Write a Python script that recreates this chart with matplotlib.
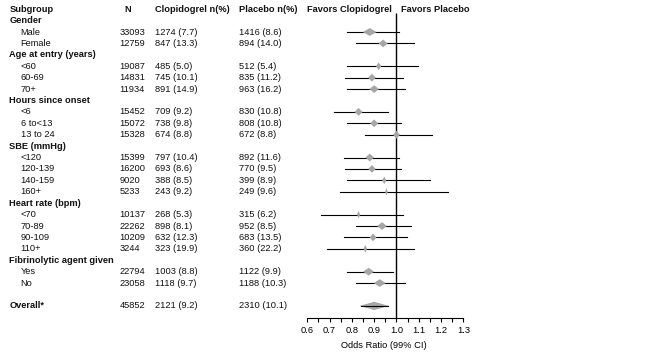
import numpy as np
import matplotlib.pyplot as plt
from matplotlib.patches import Polygon
from matplotlib.transforms import blended_transform_factory

plt.rcParams['font.family'] = ['Liberation Sans', 'DejaVu Sans']

# ---- data ----
group_names = ["Gender", "Age at entry (years)", "Hours since onset", "SBE (mmHg)",
               "Heart rate (bpm)", "Fibrinolytic agent given"]
group_sizes = [2, 3, 3, 4, 4, 2]
subgroups = ["Male", "Female", "<60", "60-69", "70+", "<6", "6 to<13", "13 to 24",
             "<120", "120-139", "140-159", "160+", "<70", "70-89", "90-109", "110+",
             "Yes", "No"]
n_total = [33093, 12759, 19087, 14831, 11934, 15452, 15072, 15328, 15399, 16200,
           9020, 5233, 10137, 22262, 10209, 3244, 22794, 23058]
clop_n = [1274, 847, 485, 745, 891, 709, 738, 674, 797, 693, 388, 243, 268, 898,
          632, 323, 1003, 1118]
clop_pct = [7.7, 13.3, 5.0, 10.1, 14.9, 9.2, 9.8, 8.8, 10.4, 8.6, 8.5, 9.2, 5.3,
            8.1, 12.3, 19.9, 8.8, 9.7]
plac_n = [1416, 894, 512, 835, 963, 830, 808, 672, 892, 770, 399, 249, 315, 952,
          683, 360, 1122, 1188]
plac_pct = [8.6, 14.0, 5.4, 11.2, 16.2, 10.8, 10.8, 8.8, 11.6, 9.5, 8.9, 9.6, 6.2,
            8.5, 13.5, 22.2, 9.9, 10.3]
odds = [0.88, 0.94, 0.92, 0.89, 0.90, 0.83, 0.90, 1.00, 0.88, 0.89, 0.945, 0.955,
        0.83, 0.935, 0.895, 0.86, 0.875, 0.925]
ci_lo = [0.78, 0.82, 0.78, 0.77, 0.78, 0.72, 0.78, 0.86, 0.765, 0.77, 0.78, 0.745,
         0.66, 0.82, 0.765, 0.69, 0.78, 0.82]
ci_hi = [1.01, 1.08, 1.095, 1.03, 1.04, 0.96, 1.02, 1.16, 1.01, 1.02, 1.15, 1.23,
         1.03, 1.065, 1.045, 1.08, 0.985, 1.04]
overall = dict(label="Overall*", n=45852, clop="2121 (9.2)", plac="2310 (10.1)",
               odds=0.90, lo=0.84, hi=0.96)
headers = ["Subgroup", "N", "Clopidogrel n(%)", "Placebo n(%)",
           "Favors Clopidogrel", "Favors Placebo"]
xticks = [0.6, 0.7, 0.8, 0.9, 1.0, 1.1, 1.2, 1.3]

W, H = 657, 356
fig = plt.figure(figsize=(W / 100, H / 100), dpi=100)
ax = fig.add_axes([296.15 / W, 38 / H, 173.9 / W, 318 / H])
ax.set_xlim(0.55, 1.33)
ax.set_ylim(27.06, -0.806)
trans = blended_transform_factory(fig.transFigure, ax.transData)

fs = 6.7
gray = '#a6a6a6'

def txt(xpx, y, s, bold=False, ha='left'):
    ax.text(xpx / W, y, s, transform=trans, fontsize=fs, ha=ha, va='center',
            fontweight='bold' if bold else 'normal', color='#111111', clip_on=False)

# header row
for xpx, s, ha in zip([9.3, 128, 155.3, 238.7, 306.7, 400.7], headers,
                      ['left', 'center', 'left', 'left', 'left', 'left']):
    txt(xpx, 0, s, bold=True, ha=ha)

def diamond(x, y, hw, hh):
    ax.add_patch(Polygon([[x - hw, y], [x, y - hh], [x + hw, y], [x, y + hh]],
                         closed=True, facecolor=gray, edgecolor='none', zorder=3))

row = 1
k = 0
for g, size in zip(group_names, group_sizes):
    txt(9.3, row, g, bold=True)
    row += 1
    for _ in range(size):
        txt(20.7, row, subgroups[k])
        txt(119.3, row, str(n_total[k]))
        txt(155.3, row, f"{clop_n[k]} ({clop_pct[k]:.1f})")
        txt(238.7, row, f"{plac_n[k]} ({plac_pct[k]:.1f})")
        ax.plot([ci_lo[k], ci_hi[k]], [row, row], color='black', lw=0.8, zorder=2)
        hw = (clop_n[k] + plac_n[k]) * 1.15e-5
        diamond(odds[k], row, hw, 0.34)
        row += 1
        k += 1

row += 1
txt(9.3, row, overall['label'], bold=True)
txt(119.3, row, str(overall['n']))
txt(155.3, row, overall['clop'])
txt(238.7, row, overall['plac'])
diamond(overall['odds'], row, (overall['hi'] - overall['lo']) / 2 + 0.006, 0.36)
ax.plot([overall['lo'], overall['hi']], [row, row], color='black', lw=0.8, zorder=4)

ax.vlines(1.0, 0.3, 27.06, color='black', lw=1.0, zorder=1)

for s in ['left', 'top', 'right']:
    ax.spines[s].set_visible(False)
ax.spines['bottom'].set_bounds(0.6, 1.3)
ax.spines['bottom'].set_linewidth(0.8)
ax.set_yticks([])
ax.set_xticks(xticks)
ax.set_xticklabels([f"{t:.1f}" for t in xticks])
ax.set_xticks(np.array(xticks[:-1]) + 0.05, minor=True)
ax.tick_params(axis='x', which='major', length=3, width=0.8, pad=2.5, labelsize=fs)
ax.tick_params(axis='x', which='minor', length=3, width=0.8)
ax.patch.set_visible(False)
ax.text(0.945, 29.43, "Odds Ratio (99% CI)", fontsize=fs, ha='center', va='center',
        clip_on=False)

fig.savefig('out.png', dpi=100, facecolor='white')
